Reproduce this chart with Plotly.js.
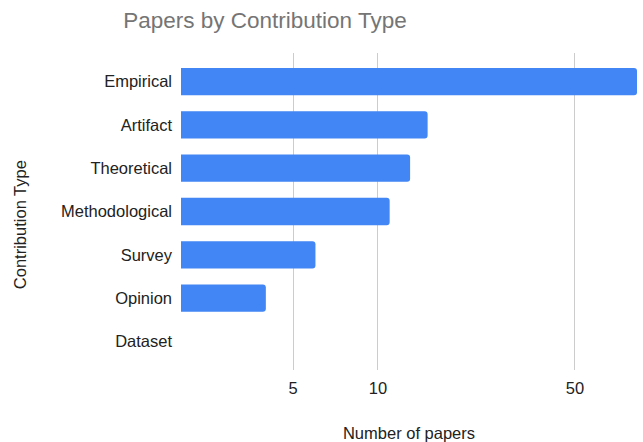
<!DOCTYPE html>
<html><head><meta charset="utf-8">
<script src="https://cdn.plot.ly/plotly-3.0.1.min.js"></script>
<style>html,body{margin:0;padding:0;background:#fff}#chart{width:643px;height:442px}</style>
</head><body><div id="chart"></div>
<script>
const categories = ["Empirical","Artifact","Theoretical","Methodological","Survey","Opinion","Dataset"];
const papers = [83, 15, 13, 11, 6, 4, 1];
const tickValues = [5, 10, 50];
const tickLabels = ["5", "10", "50"];
const yTitle = "Contribution Type";

const trace = {
  type: 'bar', orientation: 'h',
  y: categories, x: papers,
  marker: {color: '#4285F4', cornerradius: 3},
  width: 0.63,
  hoverinfo: 'x+y'
};
const layout = {
  width: 643, height: 442,
  margin: {l: 181, r: 6, t: 53, b: 72},
  paper_bgcolor: '#fff', plot_bgcolor: '#fff',
  font: {family: 'Liberation Sans, Arial, sans-serif', size: 16.5, color: '#222'},
  title: {text: 'Papers by Contribution Type', font: {size: 22.5, color: '#757575'},
          x: 0.412, xanchor: 'center', xref: 'container', y: 0.955, yanchor: 'middle', yref: 'container'},
  xaxis: {type: 'log', range: [Math.log10(2), Math.log10(83)],
          tickvals: tickValues, ticktext: tickLabels,
          showgrid: true, gridcolor: '#cccccc', gridwidth: 1,
          zeroline: false, showline: false, ticks: '', ticklabelstandoff: 6,
          tickfont: {size: 16.5, color: '#222'},
          title: {text: 'Number of papers', font: {size: 16.5, color: '#222'}, standoff: 31}},
  yaxis: {type: 'category', categoryorder: 'array', categoryarray: categories,
          range: [6.66, -0.66], showgrid: false, zeroline: false, showline: false,
          ticks: '', ticklabelstandoff: 8,
          tickfont: {size: 16.5, color: '#222'}},
  annotations: [{text: yTitle, textangle: -90, showarrow: false,
                 xref: 'paper', yref: 'paper', x: -0.353, y: 0.457,
                 xanchor: 'center', yanchor: 'middle',
                 font: {size: 16.5, color: '#222'}}],
  showlegend: false, bargap: 0.37
};
Plotly.newPlot('chart', [trace], layout, {displayModeBar: false, staticPlot: true});
</script></body></html>
